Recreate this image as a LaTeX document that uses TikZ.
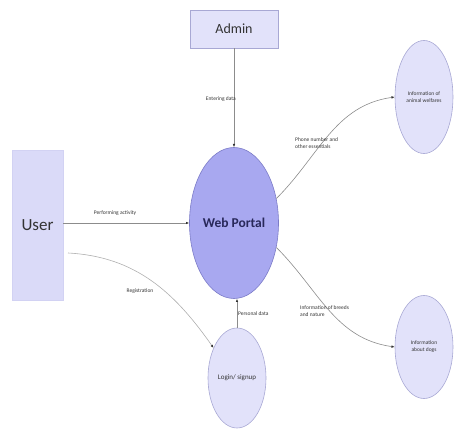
\documentclass[tikz,border=0pt]{standalone}
\usepackage{fontspec}
\setmainfont{Carlito}
\usetikzlibrary{shapes.geometric,arrows.meta}
\definecolor{lav}{HTML}{E2E2FA}
\definecolor{lavedge}{HTML}{A8A8D4}
\definecolor{webfill}{HTML}{A8A8F0}
\definecolor{webedge}{HTML}{7C7CC8}
\definecolor{userfill}{HTML}{DADAF8}
\definecolor{flowc}{HTML}{8C8C8C}
\definecolor{txt}{HTML}{333333}
\tikzset{
  entity/.style={rectangle, draw=lavedge, fill=#1, line width=0.5pt, inner sep=0pt},
  proc/.style={ellipse, draw=lavedge, fill=lav, line width=0.6pt, inner sep=0pt, align=center, font=\fontsize{5.5}{7}\selectfont, text=txt},
  flow/.style={draw=flowc, line width=0.6pt, -{Latex[length=3.2pt,width=2.6pt,color=black!80]}},
  lbl/.style={font=\fontsize{5.5}{7}\selectfont, text=txt, inner sep=0pt, align=left}
}
\begin{document}
\begin{tikzpicture}
\useasboundingbox (0,0) rectangle (456pt,429pt);
\begin{scope}[x=1pt,y=1pt]
% nodes
\node[entity=lav, minimum width=88pt, minimum height=38pt, font=\fontsize{14}{16}\selectfont, text=black!80] (admin) at (234,400) {Admin};
\node[entity=userfill, draw=userfill!85!lavedge, minimum width=51pt, minimum height=150pt, font=\fontsize{17}{20}\selectfont, text=black!80] (user) at (37.5,204) {User};
\node[ellipse, draw=webedge, fill=webfill, line width=0.6pt, minimum width=89pt, minimum height=151pt, inner sep=0pt, font=\fontsize{13.5}{15}\bfseries, text={rgb,255:red,40;green,40;blue,90}] (web) at (234,206) {\raisebox{-3pt}{Web Portal}};
\node[proc, minimum width=58pt, minimum height=113pt] (welfare) at (424,332) {Information of\\animal welfares};
\node[proc, minimum width=58pt, minimum height=103pt] (dogs) at (424,82) {Information\\about dogs};
\node[proc, minimum width=58pt, minimum height=100pt, font=\fontsize{7}{8}\selectfont] (login) at (237,51) {Login/ signup};
\coordinate (regstart) at (68,176);
% connectors
\draw[flow] (admin.south -| web.north) -- (web.north);
\draw[flow] (user.east |- web.west) -- (web.west);
\draw[flow, draw=flowc!70] (regstart) to[out=-3, in=125] (login.128);
\draw[flow] (web.30) to[out=45, in=188] (welfare.west);
\draw[flow] (web.-30) to[out=-45, in=172] (dogs.west);
\draw[flow] (login.north) -- (login.north |- web.south);
% labels
\node[lbl, anchor=east] (lenter) at (236,330) {Entering data};
\node[lbl] (lperf) at (115,216) {Performing activity};
\node[lbl] (lreg) at (140,138) {Registration};
\node[lbl, anchor=west] (lphone) at (295,286) {Phone number and\\other essentials};
\node[lbl, anchor=west] (lbreed) at (300,118) {Information of breeds\\and nature};
\node[lbl, anchor=west] (lpers) at (238,115) {Personal data};
\end{scope}
\end{tikzpicture}
\end{document}
